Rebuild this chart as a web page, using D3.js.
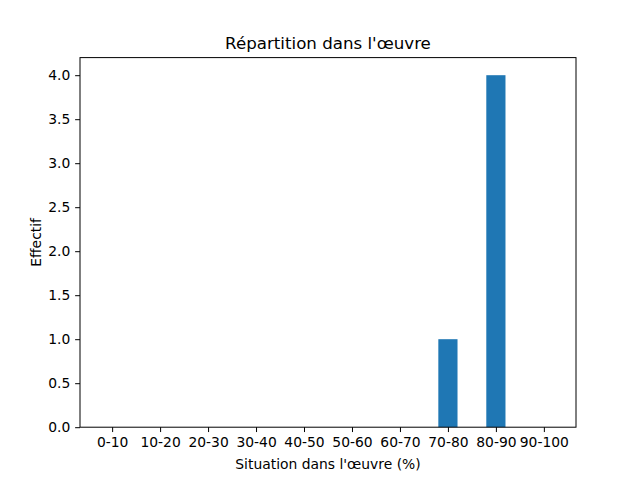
<!DOCTYPE html>
<html>
<head>
<meta charset="utf-8">
<script src="https://cdn.jsdelivr.net/npm/d3@7"></script>
<style>
body { margin: 0; background: #fff; }
svg { display: block; font-family: "DejaVu Sans", sans-serif; }
</style>
</head>
<body>
<svg id="chart" width="640" height="480"></svg>
<script>
const categories = ["0-10","10-20","20-30","30-40","40-50","50-60","60-70","70-80","80-90","90-100"];
const values = [0,0,0,0,0,0,0,1,4,0];
const yTicks = [0,0.5,1,1.5,2,2.5,3,3.5,4];
const title = "Répartition dans l'œuvre";
const xLabel = "Situation dans l'œuvre (%)";
const yLabel = "Effectif";

(function() {
const svg = d3.select("#chart");
const pL = 80, pR = 576, pT = 57.6, pB = 427.2;
const barW = 0.4;
const n = categories.length;
const margin = 0.05 * (n - 1 + barW);
const x = d3.scaleLinear().domain([-barW/2 - margin, n - 1 + barW/2 + margin]).range([pL, pR]);
const y = d3.scaleLinear().domain([0, 4.2]).range([pB, pT]);

svg.append("g").selectAll("rect").data(values).join("rect")
  .attr("x", (d,i) => x(i - barW/2))
  .attr("width", (d,i) => x(i + barW/2) - x(i - barW/2))
  .attr("y", d => y(d))
  .attr("height", d => y(0) - y(d))
  .attr("fill", "#1f77b4");

const xAxis = d3.axisBottom(x).tickValues(d3.range(n)).tickFormat(i => categories[i])
  .tickSizeInner(4.86).tickSizeOuter(0).tickPadding(4.9);
const gx = svg.append("g").attr("transform", `translate(0,${pB})`).call(xAxis);
gx.select(".domain").remove();
gx.selectAll("text").attr("font-size", 13.89).attr("fill", "#000").attr("font-family", "DejaVu Sans");
gx.selectAll("line").attr("stroke", "#000").attr("stroke-width", 1);

const yAxis = d3.axisLeft(y).tickValues(yTicks).tickFormat(d3.format(".1f"))
  .tickSizeInner(4.86).tickSizeOuter(0).tickPadding(4.9);
const gy = svg.append("g").attr("transform", `translate(${pL},0)`).call(yAxis);
gy.select(".domain").remove();
gy.selectAll("text").attr("font-size", 13.89).attr("fill", "#000").attr("font-family", "DejaVu Sans");
gy.selectAll("line").attr("stroke", "#000").attr("stroke-width", 1);

svg.append("rect").attr("x", pL).attr("y", pT).attr("width", pR-pL).attr("height", pB-pT)
  .attr("fill", "none").attr("stroke", "#000").attr("stroke-width", 1);

svg.append("text").attr("x", (pL+pR)/2).attr("y", 49).attr("text-anchor", "middle")
  .attr("font-size", 16.67).text(title);
svg.append("text").attr("x", (pL+pR)/2).attr("y", 469).attr("text-anchor", "middle")
  .attr("font-size", 13.89).text(xLabel);
svg.append("text").attr("transform", `translate(41,${(pT+pB)/2}) rotate(-90)`).attr("text-anchor", "middle")
  .attr("font-size", 13.89).text(yLabel);
})();
</script>
</body>
</html>
